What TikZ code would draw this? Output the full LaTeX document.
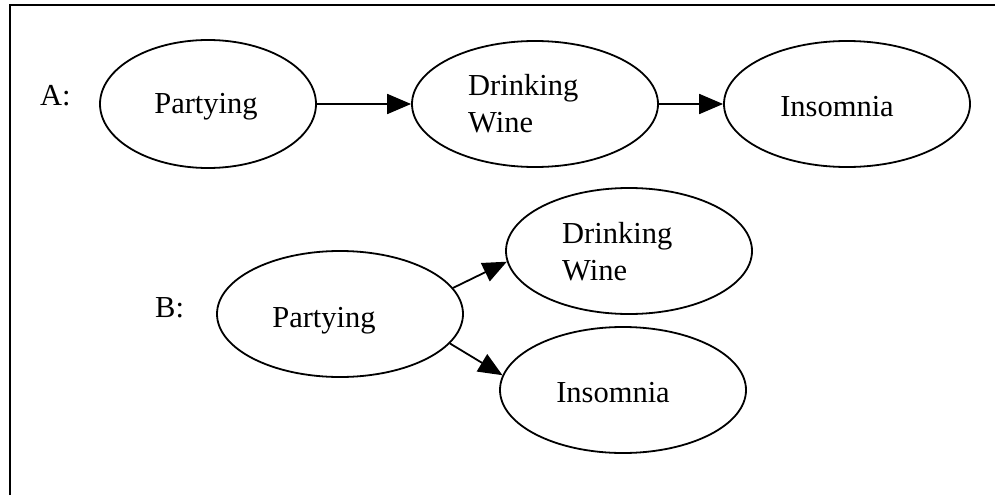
\documentclass[tikz,border=0pt]{standalone}
\usepackage{fontspec}
\setmainfont{Liberation Serif}
\usetikzlibrary{shapes,arrows.meta,positioning}

\begin{document}
\begin{tikzpicture}[
    x=1pt, y=1pt,
    oval/.style={
        ellipse, draw,
        line width=1.8pt,
        inner sep=0pt,
        minimum width=246pt,
        minimum height=126pt
    },
    word/.style={
        inner sep=0pt,
        font=\fontsize{30.5}{37}\selectfont,
        align=left
    },
    link/.style={
        line width=1.8pt,
        -{Triangle[length=24pt,width=20pt]}
    }
]
\useasboundingbox (0,0) rectangle (995,-495);
% frame
\draw[line width=2pt] (10,-495) -- (10,-5) -- (995,-5);

% A: chain
\node[oval, minimum width=216pt, minimum height=128pt] (partyA) at (208,-104) {};
\node[oval] (wineA) at (535,-104) {};
\node[oval] (sleepA) at (847,-104) {};
\node[word, anchor=base west] (labA) at (40,-105) {A:};
\node[word, anchor=base] (partyAtxt) at (206,-113) {Partying};
\node[word, anchor=base west] (wineAtxt) at (468,-132) {Drinking\\Wine};
\node[word, anchor=base] (sleepAtxt) at (837,-116) {Insomnia};
\draw[link] (partyA) -- (wineA);
\draw[link] (wineA) -- (sleepA);

% B: common cause
\node[oval] (partyB) at (340,-314) {};
\node[oval] (wineB) at (629,-251) {};
\node[oval] (sleepB) at (623,-390) {};
\node[word, anchor=base west] (labB) at (155,-317) {B:};
\node[word, anchor=base] (partyBtxt) at (324,-327) {Partying};
\node[word, anchor=base west] (wineBtxt) at (562,-280) {Drinking\\Wine};
\node[word, anchor=base] (sleepBtxt) at (613,-402) {Insomnia};
\draw[link] (partyB.13) -- (wineB.185);
\draw[link] (partyB.-15) -- (sleepB.173);
\end{tikzpicture}
\end{document}
